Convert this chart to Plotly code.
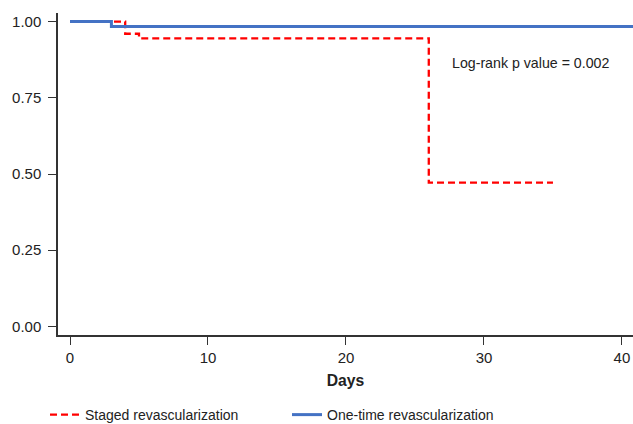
import plotly.graph_objects as go

# Kaplan-Meier step data
staged_days = [0, 4, 5, 26, 35]
staged_surv = [1.0, 0.960, 0.945, 0.472, 0.472]
onetime_days = [0, 3, 41]
onetime_surv = [1.0, 0.984, 0.984]

x_ticks = [0, 10, 20, 30, 40]
y_ticks = [0.0, 0.25, 0.5, 0.75, 1.0]
y_tick_labels = ["0.00", "0.25", "0.50", "0.75", "1.00"]

FONT = "Liberation Sans, Arial, sans-serif"
AXIS_COLOR = "#333333"
TEXT_COLOR = "#222222"

fig = go.Figure()
fig.add_trace(go.Scatter(
    x=staged_days, y=staged_surv, mode="lines", line_shape="hv",
    name="Staged revascularization",
    line=dict(color="#ff0000", width=2.3, dash="7px,4px"),
))
fig.add_trace(go.Scatter(
    x=onetime_days, y=onetime_surv, mode="lines", line_shape="hv",
    name="One-time revascularization",
    line=dict(color="#4472c4", width=3),
))

fig.add_annotation(
    x=0.821, y=0.844, xref="paper", yref="paper",
    xanchor="center", yanchor="middle",
    text="Log-rank p value = 0.002", showarrow=False,
    font=dict(family=FONT, size=14.2, color=TEXT_COLOR),
)

fig.update_layout(
    width=633, height=424,
    margin=dict(l=58, r=0, t=13, b=89),
    paper_bgcolor="white", plot_bgcolor="white",
    font=dict(family=FONT, size=15, color=TEXT_COLOR),
    showlegend=True,
    legend=dict(
        orientation="h", x=0.0711, y=0.0212, xref="container", yref="container",
        xanchor="left", yanchor="middle",
        font=dict(family=FONT, size=14, color=TEXT_COLOR),
        traceorder="normal", entrywidth=197, entrywidthmode="pixels",
    ),
    xaxis=dict(
        range=[-0.87, 40.8], tickvals=x_ticks, ticks="outside", ticklen=8,
        tickcolor=AXIS_COLOR, tickwidth=1.3,
        showline=True, linecolor=AXIS_COLOR, linewidth=1.5,
        showgrid=False, zeroline=False,
        tickfont=dict(size=15),
        title=dict(text="<b>Days</b>", font=dict(family=FONT, size=15.7), standoff=10),
    ),
    yaxis=dict(
        range=[-0.028, 1.028], tickvals=y_ticks, ticktext=y_tick_labels,
        ticks="outside", ticklen=8, tickcolor=AXIS_COLOR, tickwidth=1.3,
        showline=True, linecolor=AXIS_COLOR, linewidth=1.5,
        showgrid=False, zeroline=False,
        tickfont=dict(size=15), ticklabelstandoff=4,
    ),
)

fig.write_html("out.html", config={"displayModeBar": False},
               post_script="document.body.style.margin='0';")
